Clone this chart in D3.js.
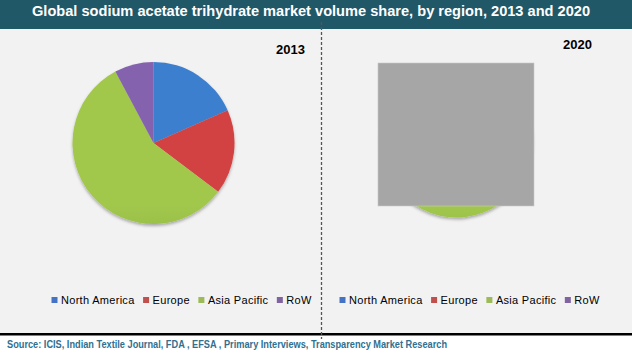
<!DOCTYPE html>
<html>
<head>
<meta charset="utf-8">
<script src="https://cdn.jsdelivr.net/npm/d3@7"></script>
<style>
  body { margin: 0; background: #fff; }
  svg { display: block; font-family: "Liberation Sans", Arial, sans-serif; }
</style>
</head>
<body>
<svg id="chart"></svg>
<script>

// Data
const regions = ["North America", "Europe", "Asia Pacific", "RoW"];
const years = ["2013", "2020"];
const share2013 = [18.4, 16.9, 56.9, 7.8];
const share2020 = [17.5, 15.8, 59.2, 7.5];
const titleText = "Global sodium acetate trihydrate market volume share, by region, 2013 and 2020";
const sourceText = "Source: ICIS, Indian Textile Journal, FDA , EFSA , Primary Interviews, Transparency Market Research";

// Colours (light top / dark bottom of the shaded slices)
const colTop = ["#3d7fcf", "#d24343", "#a1c74c", "#8462ad"];
const colBot = ["#2b5e9c", "#9c2d2a", "#76953a", "#634887"];
const colFlat = ["#4472c4", "#c0504d", "#9bbb59", "#8064a2"];

var W = 632, H = 362;
var svg = d3.select("#chart").attr("width", W).attr("height", H);
var defs = svg.append("defs");

// soft shadow under the pies
var f = defs.append("filter").attr("id", "shadow")
    .attr("x", "-20%").attr("y", "-20%").attr("width", "140%").attr("height", "140%");
f.append("feDropShadow").attr("dx", 0).attr("dy", 2).attr("stdDeviation", 1.8)
    .attr("flood-color", "#000").attr("flood-opacity", 0.3);

// Background panels
svg.append("rect").attr("x", 0).attr("y", 0).attr("width", W).attr("height", 335).attr("fill", "#f2f2f2");
svg.append("rect").attr("x", 0).attr("y", 0).attr("width", W).attr("height", 29).attr("fill", "#215868");
svg.append("rect").attr("x", 0).attr("y", 333).attr("width", W).attr("height", 2.5).attr("fill", "#000");

// Title
svg.append("text")
    .attr("x", 32).attr("y", 16)
    .attr("textLength", 558).attr("lengthAdjust", "spacingAndGlyphs")
    .attr("font-size", 15.5).attr("font-weight", "bold").attr("fill", "#fff")
    .text(titleText);

// Divider
svg.append("line")
    .attr("x1", 321.5).attr("x2", 321.5).attr("y1", 22).attr("y2", 339)
    .attr("stroke", "#555").attr("stroke-width", 1.3).attr("stroke-dasharray", "3,2");

// Pies
var panels = [
    {year: years[0], values: share2013, cx: 153.5, cy: 143, r: 81, labelX: 305, labelY: 54, legendX: 51.5},
    {year: years[1], values: share2020, cx: 456.5, cy: 141, r: 76.5, labelX: 592, labelY: 49, legendX: 339.5}
];

var pie = d3.pie().sort(null).value(function(d){ return d; });

panels.forEach(function(p, pi) {
    // gradients spanning the pie
    regions.forEach(function(reg, i) {
        var g = defs.append("linearGradient")
            .attr("id", "g" + pi + "_" + i)
            .attr("gradientUnits", "userSpaceOnUse")
            .attr("x1", 0).attr("x2", 0)
            .attr("y1", p.cy - p.r).attr("y2", p.cy + p.r);
        g.append("stop").attr("offset", "0%").attr("stop-color", colTop[i]);
        g.append("stop").attr("offset", "100%").attr("stop-color", colBot[i]);
    });

    var arc = d3.arc().innerRadius(0).outerRadius(p.r);
    var g = svg.append("g")
        .attr("transform", "translate(" + p.cx + "," + p.cy + ")")
        .attr("filter", "url(#shadow)");

    g.selectAll("path")
        .data(pie(p.values))
        .enter()
        .append("path")
        .attr("d", arc)
        .attr("fill", function(d, i){ return "url(#g" + pi + "_" + i + ")"; });

    svg.append("text")
        .attr("x", p.labelX).attr("y", p.labelY)
        .attr("text-anchor", "end")
        .attr("font-size", 13).attr("font-weight", "bold").attr("fill", "#000")
        .text(p.year);

    // Legend
    var lg = svg.append("g").attr("transform", "translate(" + p.legendX + ",300)");
    var xPos = 0;
    regions.forEach(function(reg, i) {
        var item = lg.append("g").attr("transform", "translate(" + xPos + ",0)");
        item.append("rect")
            .attr("x", 0).attr("y", -3).attr("width", 6).attr("height", 6)
            .attr("fill", colFlat[i]);
        var t = item.append("text")
            .attr("x", 9.5).attr("y", 4)
            .attr("font-size", 11).attr("letter-spacing", 0.3).attr("fill", "#000")
            .text(reg);
        xPos += 9.5 + t.node().getComputedTextLength() + 8.5;
    });
});

// grey box over the 2020 pie
svg.append("rect")
    .attr("x", 378).attr("y", 63).attr("width", 156).attr("height", 143)
    .attr("fill", "#a6a6a6").attr("stroke", "#c8c8c8").attr("stroke-width", 0.6);

// Source
svg.append("text")
    .attr("x", 7).attr("y", 347.5)
    .attr("textLength", 440).attr("lengthAdjust", "spacingAndGlyphs")
    .attr("font-size", 10).attr("font-weight", "bold").attr("fill", "#31708f")
    .text(sourceText);

</script>
</body>
</html>
